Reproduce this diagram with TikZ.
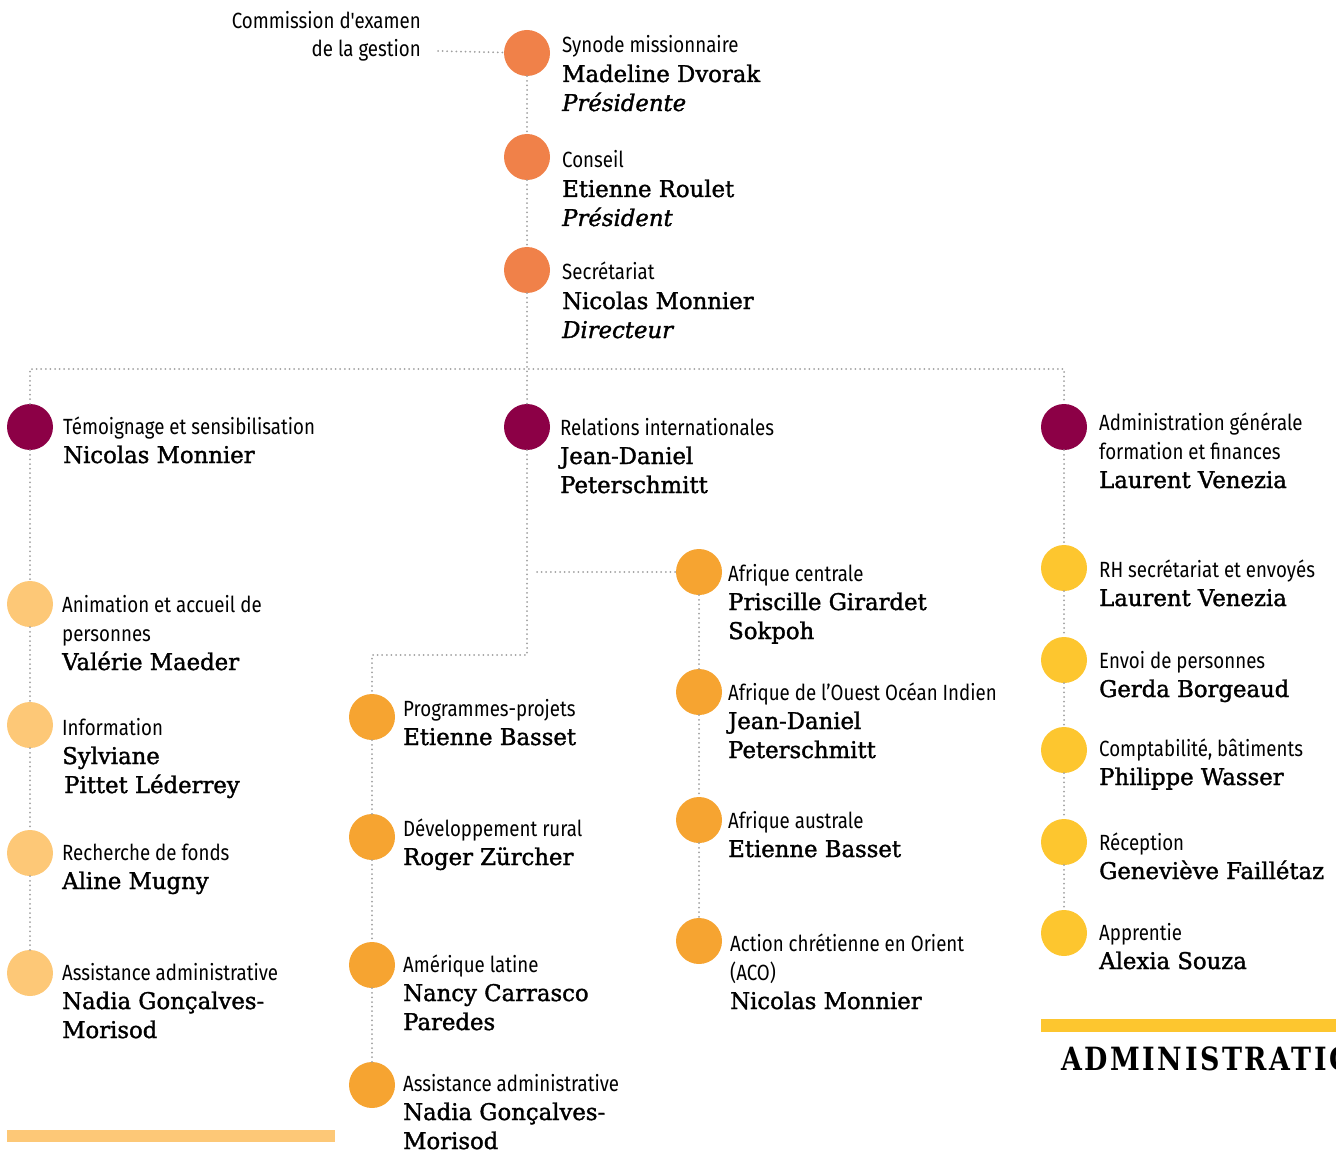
\documentclass[tikz,border=0pt]{standalone}
\usepackage{fontspec}
\newfontfamily\labfont[FakeStretch=0.85]{Fira Sans}
\newfontfamily\namefont[FakeStretch=0.99,FakeBold=1.5]{DejaVu Serif}
\newfontfamily\headfont[FakeStretch=0.84,LetterSpace=8]{DejaVu Serif}

\definecolor{cTop}{HTML}{F08149}
\definecolor{cDept}{HTML}{8C0046}
\definecolor{cPale}{HTML}{FDC877}
\definecolor{cMid}{HTML}{F6A431}
\definecolor{cYel}{HTML}{FDC62F}
\definecolor{cLine}{HTML}{A0A0A0}

% one line of a caption: unit, person, title
\newcommand\Lb[1]{\hbox{\labfont\fontsize{22}{29}\selectfont #1}}
\newcommand\Nm[1]{\hbox{\namefont\fontsize{23}{29}\selectfont #1}}
\newcommand\Ti[1]{\hbox{\namefont\itshape\fontsize{23}{29}\selectfont #1}}
\newcommand\stack[1]{\vtop{\baselineskip=29pt\lineskiplimit=-100pt\lineskip=0pt #1}}

\tikzset{
  dot/.style={circle,inner sep=0pt,minimum size=46pt,fill=#1},
  txt/.style={anchor=base west,inner sep=0pt},
  dots/.style={draw=cLine,line width=2pt,line cap=round,dash pattern=on 0pt off 4.6pt},
  bar/.style={fill=#1,draw=none}
}

\begin{document}
\begin{tikzpicture}[x=1pt,y=-1pt]
\useasboundingbox (0,0) rectangle (1336,1150);
\clip (0,0) rectangle (1336,1150);

% ---- governance
\node[dot=cTop] (syn) at (527,53) {};
\node[dot=cTop] (con) at (527,157) {};
\node[dot=cTop] (sec) at (527,270) {};
\node[txt] (tsyn) at (562,53) {\stack{\Lb{Synode missionnaire}\Nm{Madeline Dvorak}\Ti{Présidente}}};
\node[txt] (tcon) at (562,168) {\stack{\Lb{Conseil}\Nm{Etienne Roulet}\Ti{Président}}};
\node[txt] (tsec) at (562,280) {\stack{\Lb{Secrétariat}\Nm{Nicolas Monnier}\Ti{Directeur}}};

\node[anchor=base east,inner sep=0pt] (com1) at (421,29) {\labfont\fontsize{22}{29}\selectfont Commission d'examen};
\node[anchor=base east,inner sep=0pt] (com2) at (421,57) {\labfont\fontsize{22}{29}\selectfont de la gestion};
\coordinate (cfree) at (438,51);

% ---- departments
\node[dot=cDept] (tem) at (30,427) {};
\node[dot=cDept] (rel) at (527,427) {};
\node[dot=cDept] (adm) at (1064,427) {};
\node[txt] (ttem) at (63,434) {\stack{\Lb{Témoignage et sensibilisation}\Nm{Nicolas Monnier}}};
\node[txt] (trel) at (560,435) {\stack{\Lb{Relations internationales}\Nm{Jean-Daniel}\Nm{Peterschmitt}}};
\node[txt] (tadm) at (1099,430) {\stack{\Lb{Administration générale}\Lb{formation et finances}\Nm{Laurent Venezia}}};

% ---- left column
\node[dot=cPale] (ani) at (30,604) {};
\node[dot=cPale] (inf) at (30,725) {};
\node[dot=cPale] (rec) at (30,853) {};
\node[dot=cPale] (asl) at (30,973) {};
\node[txt] (tani) at (62,612) {\stack{\Lb{Animation et accueil de}\Lb{personnes}\Nm{Valérie Maeder}}};
\node[txt] (tinf) at (62,735) {\stack{\Lb{Information}\Nm{Sylviane}\Nm{\hspace{2pt}Pittet Léderrey}}};
\node[txt] (trec) at (62,860) {\stack{\Lb{Recherche de fonds}\Nm{Aline Mugny}}};
\node[txt] (tasl) at (62,980) {\stack{\Lb{Assistance administrative}\Nm{Nadia Gonçalves-}\Nm{Morisod}}};

% ---- programmes column
\node[dot=cMid] (pro) at (372,717) {};
\node[dot=cMid] (dev) at (372,837) {};
\node[dot=cMid] (ame) at (372,965) {};
\node[dot=cMid] (asm) at (372,1085) {};
\node[txt] (tpro) at (403,716) {\stack{\Lb{Programmes-projets}\Nm{Etienne Basset}}};
\node[txt] (tdev) at (403,836) {\stack{\Lb{Développement rural}\Nm{Roger Zürcher}}};
\node[txt] (tame) at (403,972) {\stack{\Lb{Amérique latine}\Nm{Nancy Carrasco}\Nm{Paredes}}};
\node[txt] (tasm) at (403,1091) {\stack{\Lb{Assistance administrative}\Nm{Nadia Gonçalves-}\Nm{Morisod}}};

% ---- regions column
\node[dot=cMid] (afc) at (699,572) {};
\node[dot=cMid] (afo) at (699,692) {};
\node[dot=cMid] (afa) at (699,820) {};
\node[dot=cMid] (aco) at (699,941) {};
\node[txt] (tafc) at (728,581) {\stack{\Lb{Afrique centrale}\Nm{Priscille Girardet}\Nm{Sokpoh}}};
\node[txt] (tafo) at (728,700) {\stack{\Lb{Afrique de l’Ouest Océan Indien}\Nm{Jean-Daniel}\Nm{Peterschmitt}}};
\node[txt] (tafa) at (728,828) {\stack{\Lb{Afrique australe}\Nm{Etienne Basset}}};
\node[txt] (taco) at (730,951) {\stack{\Lb{Action chrétienne en Orient}\Lb{(ACO)}\Nm{Nicolas Monnier}}};

% ---- administration column
\node[dot=cYel] (rh)  at (1064,568) {};
\node[dot=cYel] (env) at (1064,660) {};
\node[dot=cYel] (cpt) at (1064,750) {};
\node[dot=cYel] (rcp) at (1064,842) {};
\node[dot=cYel] (app) at (1064,933) {};
\node[txt] (trh)  at (1099,577) {\stack{\Lb{RH secrétariat et envoyés}\Nm{Laurent Venezia}}};
\node[txt] (tenv) at (1099,668) {\stack{\Lb{Envoi de personnes}\Nm{Gerda Borgeaud}}};
\node[txt] (tcpt) at (1099,756) {\stack{\Lb{Comptabilité, bâtiments}\Nm{Philippe Wasser}}};
\node[txt] (trcp) at (1099,850) {\stack{\Lb{Réception}\Nm{Geneviève Faillétaz}}};
\node[txt] (tapp) at (1099,940) {\stack{\Lb{Apprentie}\Nm{Alexia Souza}}};

% ---- section bars
\path[bar=cPale] (7,1130) rectangle (335,1142);
\path[bar=cYel] (1041,1019) rectangle (1340,1032);
\node[anchor=base west,inner sep=0pt] (hadm) at (1061,1070) {\headfont\bfseries\fontsize{32}{36}\selectfont ADMINISTRATION};

% ---- connectors
\coordinate (hr) at (1064,369);
\coordinate (mb1) at (527,655);
\coordinate (mb2) at (372,655);
\coordinate (br) at (537,572);
\draw[dots] (cfree) -- (syn);
\draw[dots] (syn) -- (con);
\draw[dots] (con) -- (sec);
\draw[dots] (sec) -- (rel);
\draw[dots] (tem) |- (hr) -- (adm);
\draw[dots] (tem) -- (ani) -- (inf) -- (rec) -- (asl);
\draw[dots] (rel) -- (mb1) -- (mb2) -- (pro);
\draw[dots] (pro) -- (dev) -- (ame) -- (asm);
\draw[dots] (br) -- (afc);
\draw[dots] (afc) -- (afo) -- (afa) -- (aco);
\draw[dots] (adm) -- (rh) -- (env) -- (cpt) -- (rcp) -- (app);
\end{tikzpicture}
\end{document}
